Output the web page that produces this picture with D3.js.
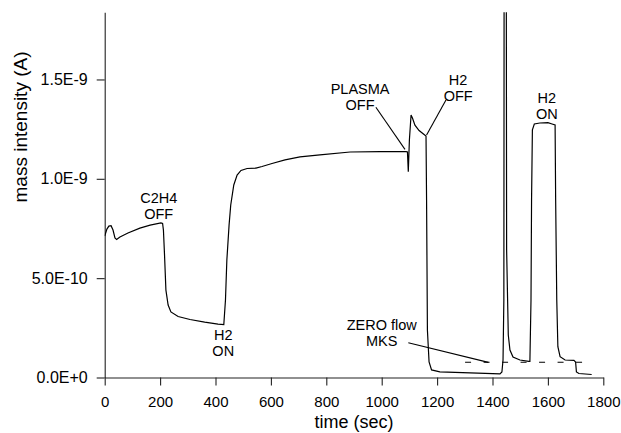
<!DOCTYPE html>
<html>
<head>
<meta charset="utf-8">
<script src="https://cdn.jsdelivr.net/npm/d3@7"></script>
<style>
body { margin: 0; background: #fff; }
text { font-family: "Liberation Sans", Arial, sans-serif; fill: #000; }
</style>
</head>
<body>
<div id="chart"></div>
<script>
// time (sec) and mass intensity (in units of 1E-10 A)
var timeSec = [0, 8, 15, 23, 30, 37, 43, 55, 84, 127, 164, 203, 209, 212, 216, 221, 229, 239, 265, 308, 361, 409, 430,
    436, 441, 449, 455, 466, 478, 492, 514, 546, 568, 604, 651, 705, 777, 886, 994, 1088, 1093, 1096, 1100, 1106, 1111,
    1120, 1135, 1153, 1160, 1162, 1165, 1171, 1180, 1210, 1319, 1427, 1434, 1438, 1441, 1443, 1448, 1451, 1457, 1463,
    1474, 1499, 1531, 1535, 1539, 1541, 1544, 1551, 1571, 1600, 1615, 1626, 1628, 1632, 1636, 1644, 1662, 1694, 1700,
    1703, 1712, 1758];
var intensity = [7.12, 7.47, 7.62, 7.64, 7.42, 7.02, 6.95, 7.07, 7.27, 7.52, 7.67, 7.78, 7.75, 7.42, 6.17, 4.40, 3.65,
    3.30, 3.07, 2.92, 2.79, 2.69, 2.66, 3.90, 5.91, 7.67, 8.68, 9.69, 10.19, 10.42, 10.52, 10.54, 10.62, 10.77, 10.95,
    11.10, 11.20, 11.35, 11.37, 11.37, 11.35, 10.36, 11.95, 13.21, 13.06, 12.70, 12.43, 12.23, 12.15, 8.93, 2.39, 0.78,
    0.38, 0.28, 0.23, 0.18, 0.28, 0.88, 3.90, 40, 40, 6.42, 2.14, 1.38, 1.03, 0.88, 0.81, 0.81, 3.90, 8.93, 12.46,
    12.76, 12.81, 12.83, 12.76, 12.71, 8.93, 3.90, 1.55, 1.05, 0.88, 0.86, 0.78, 0.28, 0.20, 0.15];

var xTicks = [0, 200, 400, 600, 800, 1000, 1200, 1400, 1600, 1800];
var yTicks = [0, 5, 10, 15];
var yTickLabels = ["0.0E+0", "5.0E-10", "1.0E-9", "1.5E-9"];

// "ZERO flow MKS" dashed level
var zeroFlow = [1301, 1728];
var zeroFlowLevel = 0.765;

// annotations: text lines, anchor (time, intensity of first baseline)
var noteText = [["C2H4", "OFF"], ["H2", "ON"], ["PLASMA", "OFF"], ["H2", "OFF"], ["H2", "ON"], ["ZERO flow", "MKS"]];
var noteTime = [195, 428, 922, 1276, 1596, 1000];
var noteLevel = [8.76, 1.89, 14.29, 14.72, 13.8, 2.39];
// leader lines [t1, v1, t2, v2]
var leaders = [[979, 13.6, 1084, 11.48], [1232, 13.97, 1162, 12.2], [1096, 1.75, 1385, 0.76]];

var width = 621, height = 433;
var margin = {top: 12.3, right: 17.7, bottom: 55.5, left: 104.7};
var w = width - margin.left - margin.right,
    h = height - margin.top - margin.bottom;

var svg = d3.select("#chart").append("svg")
    .attr("width", width)
    .attr("height", height);

var g = svg.append("g")
    .attr("transform", "translate(" + margin.left + "," + margin.top + ")");

var x = d3.scaleLinear().domain([0, 1800]).range([0, w]);
var y = d3.scaleLinear().domain([0, 18.38]).range([h, 0]);

svg.append("defs").append("clipPath").attr("id", "clip")
    .append("rect").attr("x", 0).attr("y", 0).attr("width", w).attr("height", h);

var xAxis = d3.axisBottom(x).tickValues(xTicks).tickSize(8).tickPadding(11).tickSizeOuter(0)
    .tickFormat(d3.format("d"));
var yAxis = d3.axisLeft(y).tickValues(yTicks).tickSize(8).tickPadding(9).tickSizeOuter(0)
    .tickFormat(function(d, i){ return yTickLabels[i]; });

var gx = g.append("g")
    .attr("class", "axis axis--x")
    .attr("transform", "translate(0," + h + ")")
    .call(xAxis);
gx.selectAll("text").style("font-size", "15px");

var gy = g.append("g")
    .attr("class", "axis axis--y")
    .call(yAxis);
gy.selectAll("text").style("font-size", "16px");

g.selectAll(".axis path, .axis line").attr("stroke", "#222").attr("stroke-width", 1.1);
g.selectAll(".axis text").attr("fill", "#000").style("font-family", "Liberation Sans, Arial, sans-serif");

var data = timeSec.map(function(t, i){ return {t: t, v: intensity[i]}; });

var line = d3.line()
    .x(function(d){ return x(d.t); })
    .y(function(d){ return y(d.v); });

g.append("path")
    .datum(data)
    .attr("clip-path", "url(#clip)")
    .attr("fill", "none")
    .attr("stroke", "#000")
    .attr("stroke-width", 1.2)
    .attr("d", line);

g.append("line")
    .attr("x1", x(zeroFlow[0])).attr("x2", x(zeroFlow[1]))
    .attr("y1", y(zeroFlowLevel)).attr("y2", y(zeroFlowLevel))
    .attr("stroke", "#000")
    .attr("stroke-width", 1.1)
    .attr("stroke-dasharray", "6,12.5");

g.selectAll(".leader")
    .data(leaders)
    .enter().append("line")
    .attr("class", "leader")
    .attr("x1", function(d){ return x(d[0]); })
    .attr("y1", function(d){ return y(d[1]); })
    .attr("x2", function(d){ return x(d[2]); })
    .attr("y2", function(d){ return y(d[3]); })
    .attr("stroke", "#000")
    .attr("stroke-width", 1.1);

noteText.forEach(function(lines, i){
    var t = g.append("text")
        .attr("x", x(noteTime[i]))
        .attr("y", y(noteLevel[i]))
        .attr("text-anchor", "middle")
        .style("font-size", "14.5px");
    lines.forEach(function(s, j){
        t.append("tspan")
            .attr("x", x(noteTime[i]))
            .attr("dy", j == 0 ? 0 : 16)
            .text(s);
    });
});

svg.append("text")
    .attr("x", margin.left + x(900))
    .attr("y", 428)
    .attr("text-anchor", "middle")
    .style("font-size", "18px")
    .text("time (sec)");

svg.append("text")
    .attr("transform", "translate(27,127) rotate(-90)")
    .attr("text-anchor", "middle")
    .style("font-size", "19px")
    .text("mass intensity (A)");
</script>
</body>
</html>
